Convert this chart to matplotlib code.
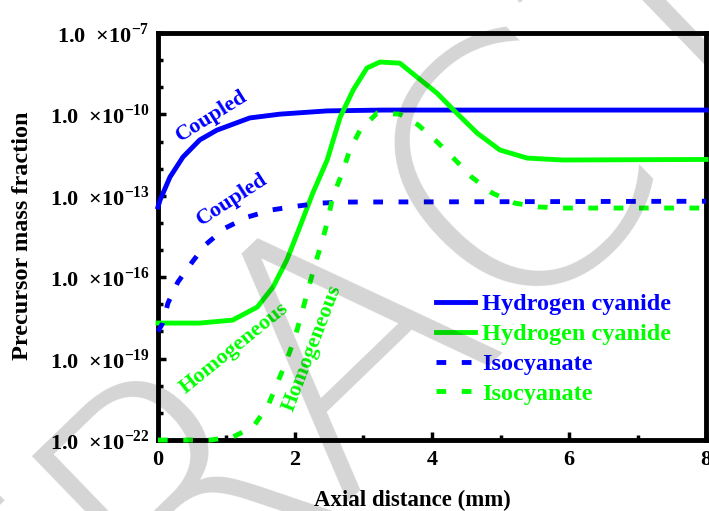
import numpy as np
import matplotlib.pyplot as plt
from matplotlib.ticker import FixedLocator, NullFormatter

plt.rcParams['font.family'] = 'Liberation Serif'
plt.rcParams['font.weight'] = 'bold'
plt.rcParams['axes.labelweight'] = 'bold'
plt.rcParams['mathtext.fontset'] = 'custom'
plt.rcParams['mathtext.rm'] = 'Liberation Serif:bold'
plt.rcParams['mathtext.bf'] = 'Liberation Serif:bold'

BLUE = '#0000ff'
GREEN = '#00ff00'

# values, y given as log10(mass fraction)
# Hydrogen cyanide, coupled
hcn_cpl_x = [0, 0.03, 0.175, 0.365, 0.61, 0.86, 1.34, 1.78, 2.47, 3.28, 8]
hcn_cpl_y = [-13.41, -13.16, -12.31, -11.57, -10.94, -10.58, -10.13, -9.99, -9.87, -9.84, -9.84]

# Hydrogen cyanide, homogeneous
hcn_hom_x = [0, 0.61, 1.09, 1.45, 1.68, 1.88, 2.07, 2.26, 2.47, 2.66, 2.85, 3.05, 3.24,
             3.53, 3.78, 4.07, 4.36, 4.66, 4.99, 5.39, 5.91, 8]
hcn_hom_y = [-17.69, -17.69, -17.58, -17.10, -16.36, -15.37, -14.15, -12.90, -11.68, -10.10,
             -9.10, -8.29, -8.07, -8.11, -8.62, -9.21, -9.95, -10.69, -11.31, -11.61, -11.68, -11.66]

# Isocyanate, coupled
nco_cpl_x = [0, 0.07, 0.146, 0.29, 0.50, 0.69, 0.98, 1.31, 1.66, 2.03, 2.36, 2.73, 8]
nco_cpl_y = [-18.0, -17.69, -16.95, -16.18, -15.44, -14.81, -14.19, -13.78, -13.52, -13.38,
             -13.27, -13.23, -13.2]

# Isocyanate, homogeneous
nco_hom_x = [0, 0.76, 1.09, 1.39, 1.61, 1.75, 1.88, 2.0, 2.10, 2.19, 2.29, 2.39, 2.48, 2.55,
             2.69, 2.80, 2.95, 3.20, 3.53, 3.80, 4.09, 4.34, 4.58, 4.88, 5.21, 5.55, 5.91, 8]
nco_hom_y = [-22.0, -22.0, -21.89, -21.52, -20.71, -19.86, -19.05, -18.21, -17.32, -16.47,
             -15.55, -14.74, -13.89, -13.04, -12.16, -11.31, -10.58, -9.95, -9.99, -10.39,
             -11.05, -11.68, -12.31, -12.90, -13.27, -13.41, -13.45, -13.45]

ytick_exp = [-22, -19, -16, -13, -10, -7]
xticks = [0, 2, 4, 6, 8]

fig = plt.figure(figsize=(7.09, 5.11), dpi=100)
ax = fig.add_axes([0.2228, 0.1389, 0.773, 0.7965])

lw = 3.5
dash = (2.0, 3.2)
kw = dict(lw=lw, zorder=3, clip_on=False, solid_joinstyle='round')
ax.plot(hcn_cpl_x, 10.0 ** np.array(hcn_cpl_y), color=BLUE, label='Hydrogen cyanide', **kw)
ax.plot(hcn_hom_x, 10.0 ** np.array(hcn_hom_y), color=GREEN, label='Hydrogen cyanide', **kw)
ax.plot(nco_cpl_x, 10.0 ** np.array(nco_cpl_y), color=BLUE, dashes=dash, label='Isocyanate', **kw)
ax.plot(nco_hom_x, 10.0 ** np.array(nco_hom_y), color=GREEN, dashes=dash, label='Isocyanate', **kw)

ax.set_yscale('log')
ax.set_xlim(0, 8)
ax.set_ylim(1e-22, 1e-7)
ax.set_xticks(xticks)
ax.set_xticklabels([str(t) for t in xticks])
ax.xaxis.set_minor_locator(FixedLocator([1, 3, 5, 7]))
ax.set_yticks([10.0 ** e for e in ytick_exp])
ax.set_yticklabels([f'1.0  \u00d710$^{{{e}}}$' for e in ytick_exp])
ax.yaxis.set_minor_locator(FixedLocator([10.0 ** e for e in range(-22, -6) if e not in ytick_exp]))
ax.yaxis.set_minor_formatter(NullFormatter())

ax.tick_params(which='both', direction='in', width=2.5)
ax.tick_params(which='major', length=6)
ax.tick_params(which='minor', length=3.5)
ax.tick_params(axis='y', labelsize=16, pad=6)
ax.tick_params(axis='x', labelsize=16, pad=7)
for s in ax.spines.values():
    s.set_linewidth(3.5)

ax.set_xlabel('Axial distance (mm)', fontsize=16.5)
ax.xaxis.set_label_coords(0.4635, -0.123)
ax.set_ylabel('Precursor mass fraction', fontsize=17.5)
ax.yaxis.set_label_coords(-0.228, 0.503)

ax.text(0.79, 10 ** -10.06, 'Coupled', color=BLUE, fontsize=16, rotation=32,
        ha='center', va='center', rotation_mode='anchor')
ax.text(1.08, 10 ** -13.16, 'Coupled', color=BLUE, fontsize=16, rotation=33,
        ha='center', va='center', rotation_mode='anchor')
ax.text(1.12, 10 ** -18.61, 'Homogeneous', color=GREEN, fontsize=16, rotation=39,
        ha='center', va='center', rotation_mode='anchor')
ax.text(2.25, 10 ** -18.61, 'Homogeneous', color=GREEN, fontsize=16, rotation=69,
        ha='center', va='center', rotation_mode='anchor')

ax.legend(loc='upper left', bbox_to_anchor=(0.485, 0.39), frameon=False, fontsize=17.5,
          handlelength=1.6, handletextpad=0.3, labelspacing=0.32, borderpad=0,
          labelcolor='linecolor')

# grey watermark lying over the figure
fig.text(0.163, -0.14, 'ABSTRACT', fontsize=250, family='DejaVu Sans', weight='light',
         color='black', alpha=0.17, rotation=44, rotation_mode='anchor',
         ha='center', va='center', zorder=10)

fig.savefig('out.png', dpi=100)
